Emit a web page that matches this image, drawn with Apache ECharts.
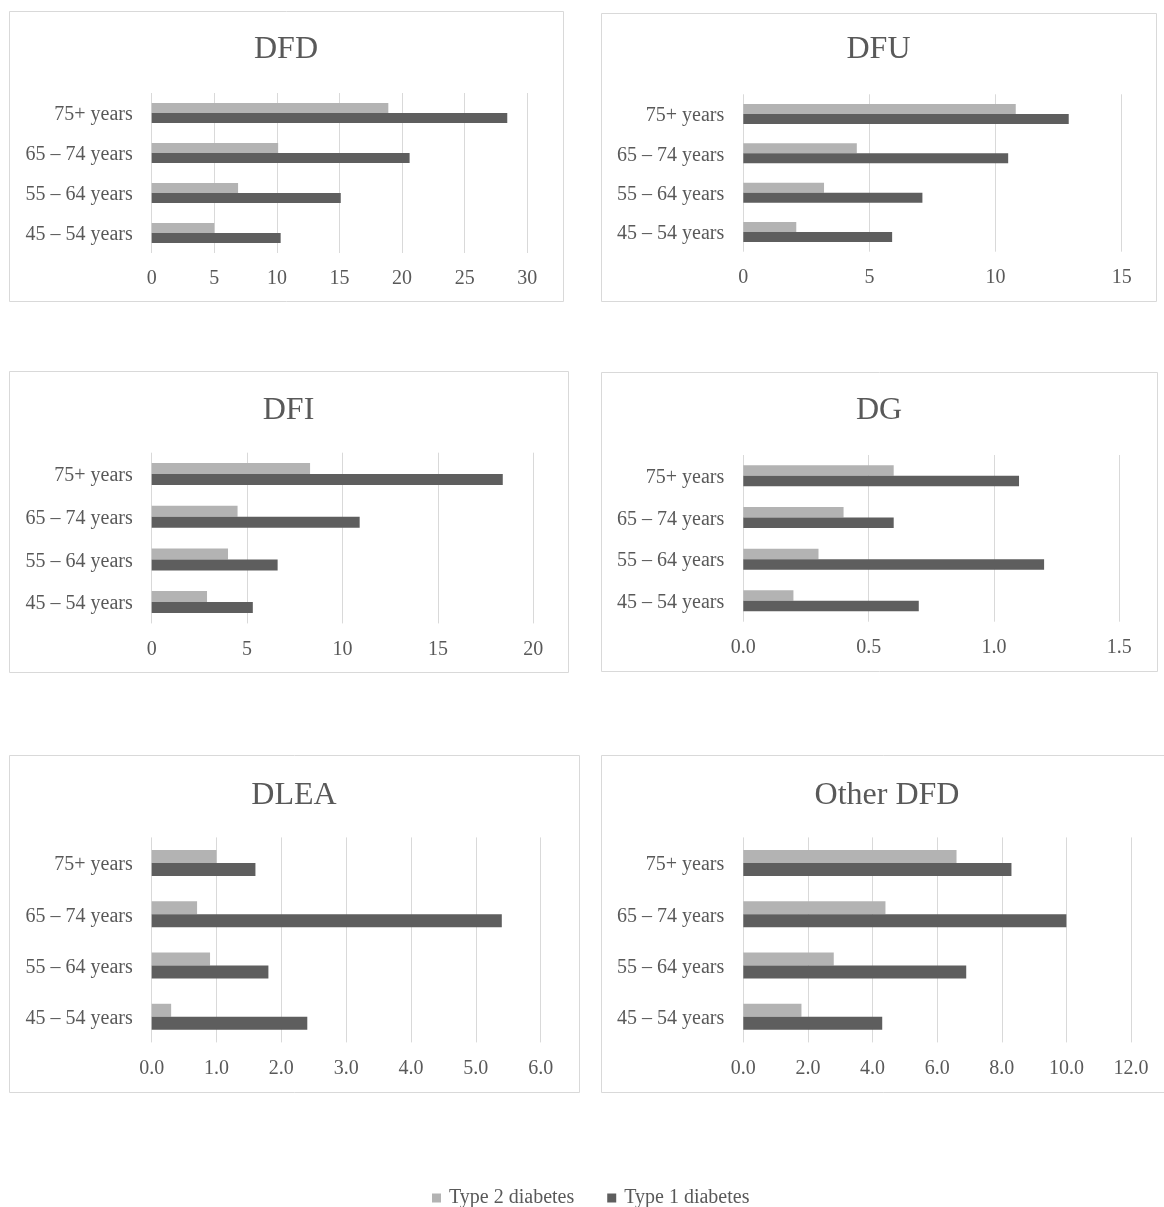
<!DOCTYPE html>
<html>
<head>
<meta charset="utf-8">
<script src="https://cdn.jsdelivr.net/npm/echarts@6/dist/echarts.min.js"></script>
<style>
html,body{margin:0;padding:0;background:#fff;}
#c{width:1164px;height:1207px;}
</style>
</head>
<body>
<div id="c"></div>
<script>
// ---- data ----
const categories = ['45 – 54 years', '55 – 64 years', '65 – 74 years', '75+ years'];
const seriesNames = ['Type 2 diabetes', 'Type 1 diabetes'];
const panelTitles = ['DFD', 'DFU', 'DFI', 'DG', 'DLEA', 'Other DFD'];

const dfdType2 = [5.0, 6.9, 10.1, 18.9];
const dfdType1 = [10.3, 15.1, 20.6, 28.4];
const dfuType2 = [2.1, 3.2, 4.5, 10.8];
const dfuType1 = [5.9, 7.1, 10.5, 12.9];
const dfiType2 = [2.9, 4.0, 4.5, 8.3];
const dfiType1 = [5.3, 6.6, 10.9, 18.4];
const dgType2 = [0.2, 0.3, 0.4, 0.6];
const dgType1 = [0.7, 1.2, 0.6, 1.1];
const dleaType2 = [0.3, 0.9, 0.7, 1.0];
const dleaType1 = [2.4, 1.8, 5.4, 1.6];
const otherType2 = [1.8, 2.8, 4.4, 6.6];
const otherType1 = [4.3, 6.9, 10.0, 8.3];

const axisMax = [30, 15, 20, 1.5, 6, 12];
const axisInterval = [5, 5, 5, 0.5, 1, 2];
const axisDecimals = [0, 0, 0, 1, 1, 1];

const panelData = [
  [dfdType2, dfdType1],
  [dfuType2, dfuType1],
  [dfiType2, dfiType1],
  [dgType2, dgType1],
  [dleaType2, dleaType1],
  [otherType2, otherType1]
];

// ---- layout ----
const layout = [
  { box: [9, 11, 554, 290], grid: [151.7, 93, 375.6, 160], bw: 10, titleY: 47 },
  { box: [601, 13, 555, 288], grid: [743.3, 94.3, 378.4, 157.4], bw: 10, titleY: 47 },
  { box: [9, 371, 559, 301], grid: [151.7, 452.7, 381.6, 170.7], bw: 11, titleY: 408 },
  { box: [601, 372, 556, 299], grid: [743.3, 455, 376, 166.7], bw: 10.5, titleY: 408 },
  { box: [9, 755, 570, 337], grid: [151.7, 837.4, 389, 205], bw: 13, titleY: 793 },
  { box: [601, 755, 572, 337], grid: [743.3, 837.4, 387.7, 205], bw: 13, titleY: 793 }
];

const FONT = 'Liberation Serif';
const TXT = '#595959';
const GRIDC = '#d9d9d9';
const colors = ['#b3b3b3', '#5e5e5e'];

const grids = [], xAxes = [], yAxes = [], series = [], titles = [], graphics = [];
layout.forEach((p, i) => {
  const [l, t, w, h] = p.grid;
  grids.push({ left: l, top: t, width: w, height: h, containLabel: false });
  const dec = axisDecimals[i];
  xAxes.push({
    type: 'value', gridIndex: i, min: 0, max: axisMax[i], interval: axisInterval[i],
    axisLine: { show: false }, axisTick: { show: false },
    splitLine: { show: true, lineStyle: { color: GRIDC, width: 1 } },
    axisLabel: { fontFamily: FONT, fontSize: 20, color: TXT, margin: 16,
      formatter: v => v.toFixed(dec) }
  });
  yAxes.push({
    type: 'category', gridIndex: i, data: categories,
    axisLine: { show: false }, axisTick: { show: false },
    axisLabel: { margin: 19, formatter: v => '{a|' + v + '}',
      rich: { a: { fontFamily: FONT, fontSize: 20, color: TXT, padding: [4, 0, 0, 0] } } }
  });
  panelData[i].forEach((vals, s) => {
    series.push({
      type: 'bar', name: seriesNames[s], xAxisIndex: i, yAxisIndex: i,
      data: vals, barWidth: p.bw, barGap: '0%',
      itemStyle: { color: colors[s] }, silent: true
    });
  });
  const [bx, by, bw, bh] = p.box;
  titles.push({
    text: panelTitles[i], left: bx + bw / 2, top: p.titleY - 15, textAlign: 'center', padding: 0,
    textStyle: { fontFamily: FONT, fontSize: 32, fontWeight: 'normal', color: TXT, lineHeight: 36 }
  });
  graphics.push({
    type: 'rect', shape: { x: bx + 0.5, y: by + 0.5, width: bw, height: bh },
    style: { fill: null, stroke: GRIDC, lineWidth: 1 }, silent: true, z: -1
  });
});

const chart = echarts.init(document.getElementById('c'), null, { renderer: 'canvas' });
chart.setOption({
  backgroundColor: '#fff',
  animation: false,
  title: titles,
  graphic: graphics,
  grid: grids,
  xAxis: xAxes,
  yAxis: yAxes,
  series: series,
  legend: {
    data: seriesNames, left: 432, top: 1188, padding: 0,
    icon: 'rect', itemWidth: 9, itemHeight: 9, itemGap: 33,
    textStyle: { fontFamily: FONT, fontSize: 20, color: TXT, padding: [0, 0, 0, 3] }
  }
});
</script>
</body>
</html>
